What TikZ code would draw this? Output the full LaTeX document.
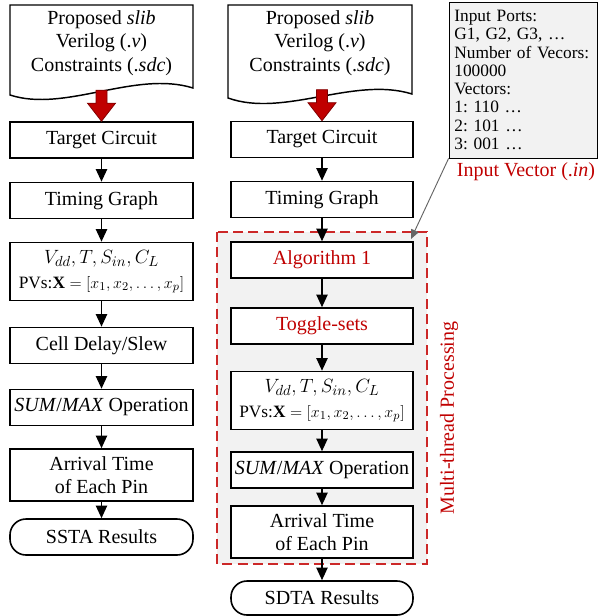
\documentclass[tikz,border=0pt]{standalone}
\usepackage{fontspec}
\setmainfont{Liberation Serif}
\usetikzlibrary{arrows.meta}
\definecolor{flowred}{RGB}{192,0,0}
\definecolor{arrowdark}{RGB}{130,0,0}
\definecolor{dashred}{RGB}{204,40,40}
\definecolor{panelgray}{RGB}{242,242,242}
\definecolor{pointergray}{RGB}{100,100,100}

\begin{document}
\frenchspacing
\begin{tikzpicture}[x=0.75pt,y=-0.75pt,
  every node/.style={font=\fontsize{15}{17.5}\selectfont, inner sep=0pt},
  stepbox/.style={draw, line width=1.2pt, fill=white, minimum height=27pt, align=center},
  leftbox/.style={stepbox, minimum width=137.25pt},
  rightbox/.style={stepbox, minimum width=136.5pt},
  endbox/.style={rounded corners=12pt},
  flow/.style={line width=1.1pt, -{Triangle[length=9.5pt,width=8.5pt]}},
  docshape/.style={draw, line width=1.1pt, fill=white},
  redtext/.style={text=flowred},
  pics/bigdown/.style={code={
    \filldraw[fill=flowred, draw=arrowdark, line width=0.6pt]
      (0,0) -- (-14,-18) -- (-5.5,-18) -- (-5.5,-31) -- (5.5,-31) -- (5.5,-18) -- (14,-18) -- cycle;}}
]
\useasboundingbox (0,0) rectangle (598,616);

% multi-thread panel
\draw[dashred, fill=panelgray, line width=1.1pt, dash pattern=on 7.5pt off 4pt]
  (217,232) rectangle (427,564);
\node[redtext, rotate=90] (mt) at (449,418) {Multi-thread Processing};

% input documents
\draw[docshape] (10,5) -- (193,5) -- (193,88) .. controls (135,70) and (65,113) .. (10,95) -- cycle;
\node[align=center] (doc1) at (101.5,43) {Proposed \textit{slib}\\Verilog (.\textit{v})\\Constraints (.\textit{sdc})};
\draw[docshape] (228,5) -- (412,5) -- (412,94) .. controls (354,76) and (284,118) .. (228,98) -- cycle;
\node[align=center] (doc2) at (320,43) {Proposed \textit{slib}\\Verilog (.\textit{v})\\Constraints (.\textit{sdc})};

% SSTA flow
\node[leftbox] (tc1) at (101.5,140) {Target Circuit};
\node[leftbox] (tg1) at (101.5,200.5) {Timing Graph};
\node[leftbox, minimum height=43.5pt] (pv1) at (101.5,271.5)
  {$V_{dd}, T, S_{in}, C_L$\\[1pt]{\fontsize{13}{15}\selectfont PVs:$\mathbf{X}=[x_1,x_2,\ldots,x_p]$}};
\node[leftbox] (cd1) at (101.5,345.5) {Cell Delay/Slew};
\node[leftbox] (sm1) at (101.5,407.5) {\textit{SUM}/\textit{MAX} Operation};
\node[leftbox, minimum height=39pt] (at1) at (101.5,475) {Arrival Time\\of Each Pin};
\node[leftbox, endbox] (ss1) at (101.5,537) {SSTA Results};

% SDTA flow
\node[rightbox] (tc2) at (322,139.5) {Target Circuit};
\node[rightbox] (tg2) at (322,199.5) {Timing Graph};
\node[rightbox, redtext] (al2) at (322,260) {Algorithm 1};
\node[rightbox, redtext] (ts2) at (322,326) {Toggle-sets};
\node[rightbox, minimum height=43.5pt] (pv2) at (322,400.5)
  {$V_{dd}, T, S_{in}, C_L$\\[1pt]{\fontsize{13}{15}\selectfont PVs:$\mathbf{X}=[x_1,x_2,\ldots,x_p]$}};
\node[rightbox] (sm2) at (322,470) {\textit{SUM}/\textit{MAX} Operation};
\node[rightbox, minimum height=39pt] (at2) at (322,532) {Arrival Time\\of Each Pin};
\node[rightbox, endbox, minimum height=25.5pt] (sd2) at (322,598) {SDTA Results};

% big red arrows from the documents
\pic at (tc1.north) {bigdown};
\pic at (tc2.north) {bigdown};

% flow connectors
\foreach \a/\b in {tc1/tg1, tg1/pv1, pv1/cd1, cd1/sm1, sm1/at1, at1/ss1,
                   tc2/tg2, tg2/al2, al2/ts2, ts2/pv2, pv2/sm2, sm2/at2, at2/sd2}
  \draw[flow] (\a) -- (\b);

% input vector file
\node[draw, line width=0.6pt, fill=panelgray, align=left, text width=103pt,
      inner xsep=4pt, minimum height=117pt,
      font=\fontsize{13}{13.7}\selectfont] (inbox) at (523,80)
  {Input Ports:\\G1, G2, G3, …\\Number of Vecors:\\100000\\Vectors:\\1: 110 …\\2: 101 …\\3: 001 …};
\node[redtext] (inlabel) at (526,172) {Input Vector (.\textit{in})};
\coordinate (target) at (411,239);
\draw[pointergray, line width=0.7pt, -{Triangle[length=7pt,width=6pt]}] (inbox.south west) -- (target);
\end{tikzpicture}
\end{document}
